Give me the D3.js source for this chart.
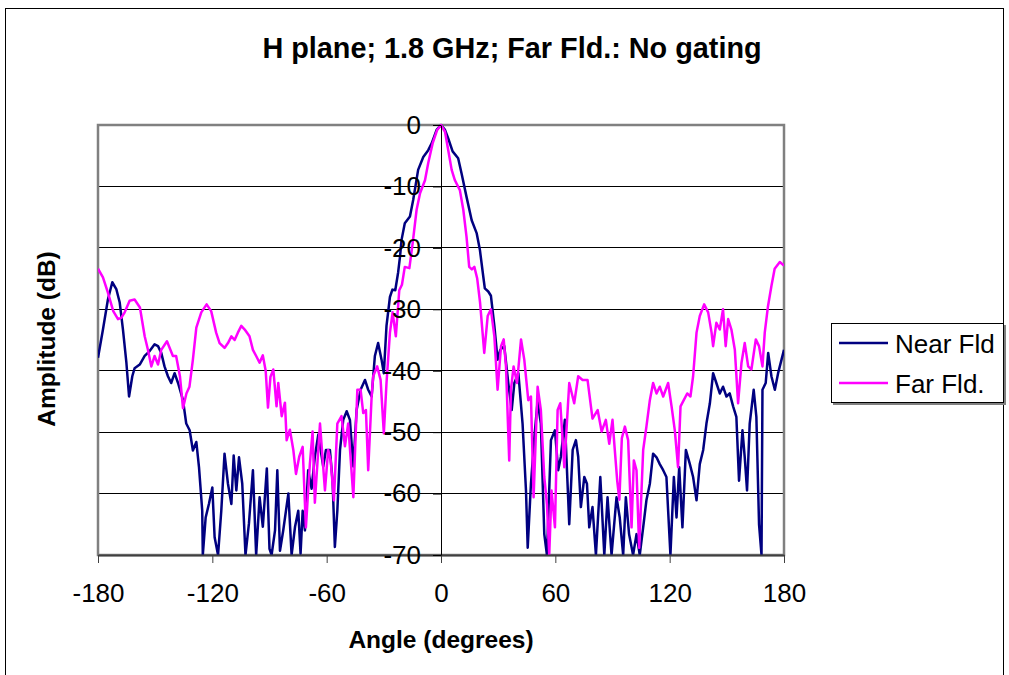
<!DOCTYPE html>
<html>
<head>
<meta charset="utf-8">
<script src="https://cdn.jsdelivr.net/npm/d3@7"></script>
<style>
  html, body { margin: 0; padding: 0; background: #fff; }
  svg { display: block; font-family: "Liberation Sans", Arial, sans-serif; }
</style>
</head>
<body>
<svg id="chart" width="1009" height="675"></svg>
<script>
// ---------- DATA ----------
const chartTitle = "H plane; 1.8 GHz; Far Fld.: No gating";
const xTitle = "Angle (degrees)";
const yTitle = "Amplitude (dB)";
const seriesNames = ["Near Fld", "Far Fld."];
const xTicks = [-180, -120, -60, 0, 60, 120, 180];
const yTicks = [0, -10, -20, -30, -40, -50, -60, -70];

const nearAngles = [-180,-177.4,-174.8,-172.5,-170.4,-168.6,-166.9,-165.1,-163.7,-162,-160.8,-158.1,-155.5,-152.9,-150.3,-148.5,-146.8,-145.1,-143.3,-141.6,-139.8,-138,-135.4,-133.7,-131.9,-130.2,-128.4,-127,-125.3,-125,-123.5,-121.8,-120,-118.8,-117,-115.3,-113.6,-111.8,-110,-108.8,-107.4,-106,-104.3,-102.6,-100.8,-98.7,-97,-95.2,-93.5,-91.4,-90,-88.9,-87.1,-85.9,-84.5,-82.8,-80.1,-78.4,-76.6,-74.9,-73.7,-72.6,-71.4,-69.7,-67.9,-66.2,-64.4,-61.8,-60.4,-58.3,-56.9,-55.7,-54.4,-53,-51.3,-49.5,-47.8,-46,-44.3,-42.2,-39.9,-38.2,-36.4,-34.7,-33,-31.2,-30,-28.6,-26.8,-25.5,-24,-22.5,-21.5,-20.7,-19,-16.3,-14.6,-12,-9.3,-6.7,-4.9,-2.3,0,2.1,3.8,6.1,9,10.8,13.4,16.1,18.7,20.4,22.2,23,24.8,26.2,28,29.7,31.1,33.2,35.3,37.1,38.5,40.6,42.8,44.6,45.5,47.2,49,50.7,52.4,54.2,55.6,57.7,59.8,61.5,62.9,65,67.3,69.1,70.8,72,73.4,75.2,76.6,77.8,79.5,81.3,83.6,85.7,87.4,89.5,92.1,93.8,95.6,97,98.7,100.8,102.6,104.3,106.1,107.8,109.6,111.3,113.1,114.8,116.6,118.3,119.2,120.4,122.2,123.6,125,126.7,128.5,130.6,132.3,134.1,135.8,137.6,139.3,141.1,142.8,144.5,146.3,148,149.8,151.5,153.3,155,156.4,158.2,159.4,160.6,162,164.1,165.5,166.9,168.2,168.7,170.4,171.7,173.4,175.2,176.9,178.7,180];
const nearValues = [-37.9,-33.3,-28.4,-25.6,-26.7,-28.9,-33.3,-38.7,-44.2,-40.9,-39.6,-39,-37.6,-36.8,-35.7,-36,-37.1,-39.3,-40.9,-42,-40.4,-42,-44.8,-48.6,-49.7,-53,-51.6,-55.7,-62.8,-70,-63.9,-61.7,-59,-67.1,-70,-62.8,-53.5,-58.4,-61.7,-53.8,-59.5,-54.1,-58.4,-70,-64.9,-56.2,-70,-60.6,-65.4,-55.9,-69,-70,-66,-56.2,-69.3,-66,-60,-70,-65.4,-62.8,-69.8,-62.8,-66,-56.2,-59.2,-54,-50.4,-55.6,-52.9,-52.9,-57.9,-68.7,-62.8,-52.9,-48,-46.6,-48,-55.6,-46.4,-43.1,-41.5,-43.1,-44.2,-37.6,-35.5,-38.2,-40.4,-32.7,-28,-26.8,-26.9,-24,-21.4,-18.7,-16,-14.9,-12.2,-7.3,-5.2,-4.1,-3,-0.8,0,-0.8,-2.2,-4.3,-5.4,-7.9,-11.7,-15.5,-17.6,-20.3,-24.7,-26.6,-27.1,-27.8,-32.7,-38.2,-36.6,-36,-42,-46.4,-42,-40.4,-48.6,-59.5,-68.8,-58.4,-50.8,-45,-48.6,-66.6,-70,-51.3,-49.7,-56.2,-54,-48,-65,-52.9,-51.3,-54,-62.2,-57.3,-58.4,-65.5,-62.2,-70,-57.3,-70,-60.6,-70,-60.6,-63.9,-70,-60.6,-66.6,-70,-66.6,-70,-65.5,-61.1,-58.4,-53.5,-54.1,-55.2,-56.2,-57.3,-62.8,-70,-57.3,-63.9,-55.7,-65.5,-52.9,-55.2,-57.3,-61.1,-55.2,-52.9,-48.6,-45.3,-40.4,-42,-43.7,-42.6,-44.2,-43.7,-45.8,-47.5,-57.9,-49.7,-54.1,-59.5,-48.6,-43.1,-47.5,-65,-70,-43.1,-42,-37.1,-40.9,-43.1,-40.4,-38.2,-36.6];

const farAngles = [-180,-177.4,-174.8,-172,-169.5,-167.8,-166,-163.4,-160.8,-158,-155.5,-153.8,-152,-150.3,-148.5,-146.8,-143.8,-140.7,-139,-137,-135.4,-133.6,-132,-130.2,-128.4,-125.8,-123,-120.6,-118,-116.2,-113.6,-111.8,-110,-108.3,-106.6,-104.8,-103,-100.5,-98.7,-97,-95.2,-93.5,-92,-90.8,-89.5,-88,-86.3,-85.4,-83.6,-81.9,-81,-79.3,-77.5,-76.1,-74.4,-72.6,-70.9,-68.8,-67.4,-66.2,-63.5,-60.9,-59.2,-57.9,-56.2,-54.4,-52.2,-50.4,-48.7,-46,-43.9,-42.2,-40.8,-39.4,-38.2,-36.4,-35.6,-33.5,-31.7,-30,-28.6,-26.8,-25.4,-23.7,-21.9,-20.5,-19,-16.6,-14.9,-12.8,-11,-8.4,-6.7,-4.4,-2,0,2.1,3.8,5.6,7.3,9.9,11.7,13.4,14.8,16.2,17.5,19,20.5,22.7,24.5,26.2,28,29.7,31.5,32.9,34.1,35.8,36.7,38.1,39.9,42,43.7,45.8,47.2,48.6,50.7,52.4,54.2,55.6,56.8,58,59.8,61.2,62.6,64.7,67.3,69.9,72,74.3,76.9,79.5,82.2,84.3,86.5,88.3,90,91.2,92.5,93.6,94.9,96.5,98.2,100,101.2,102.6,104,106.1,107.8,109.6,111.3,113.1,114.8,116.6,119.2,121,122.7,124.4,125.7,127.4,129.2,130.9,132.3,134.1,135.8,138.1,140.2,142,142.8,144.5,146.3,148,149.4,150.7,152.4,154.2,155.9,157.7,159.4,161.2,162.9,165.2,166.9,168.7,169.9,171.6,173.4,175.1,177.8,180];
const farValues = [-23.4,-24.8,-27.3,-30.3,-31.6,-31.4,-30.5,-28.6,-28.4,-29.7,-34.4,-36.6,-39.3,-37.6,-39,-36.6,-35.2,-37.6,-37.6,-40.9,-46.1,-43.7,-42.6,-38.2,-33,-30.5,-29.2,-30.3,-33.8,-35.5,-36.3,-35.5,-34.4,-35,-33.8,-32.7,-33.3,-34.4,-36.6,-37.6,-38.7,-37.5,-40,-46,-41,-39.8,-45.8,-42,-47.4,-45.2,-51.3,-49.6,-52.9,-56.8,-54,-52.4,-65.5,-55.1,-49.9,-61.5,-48.6,-59.5,-52.9,-54.6,-61.1,-48.6,-47.4,-52.3,-48.6,-60.6,-43.1,-43.1,-46.9,-46.4,-56.2,-44.2,-40.9,-39.3,-41.5,-50.2,-42,-33.8,-30.5,-34.4,-26.9,-26,-23.1,-23.3,-19.3,-13.8,-11.1,-9,-6.2,-3,-0.8,0,-1.1,-4.1,-7.3,-9,-10.6,-13.8,-18.2,-23.1,-23.5,-23.1,-25,-28.9,-37.1,-31.1,-30,-34.4,-43.1,-36,-34.9,-39.3,-54.6,-43.1,-39.3,-42,-34.9,-38.2,-44.8,-44.2,-60.6,-42.6,-46.4,-57.3,-61.7,-70,-59.5,-65.5,-46.4,-45.3,-55.7,-42,-45.3,-40.9,-41.5,-41.5,-47.8,-46.4,-49.9,-48,-51.9,-48,-52.9,-58,-61,-51,-49.1,-51.3,-65.5,-54.6,-56.2,-68.8,-52.9,-49.1,-44.8,-42,-43.7,-42.6,-44.2,-42,-45.8,-49.7,-55.7,-45.8,-44.8,-43.7,-44.2,-40.9,-33.8,-31.1,-29.2,-30.5,-33.8,-36,-32.2,-33.3,-30,-36,-31.6,-33.3,-36.6,-45.3,-38.7,-35.5,-39.3,-39.8,-34.9,-36,-39.3,-33.8,-29.5,-26.2,-23.4,-22.3,-22.9];

const seriesColors = ["#000080", "#FF00FF"];

// ---------- CHART ----------
const svg = d3.select("#chart");
const x = d3.scaleLinear().domain([-180, 180]).range([98, 784]);
const y = d3.scaleLinear().domain([-70, 0]).range([555, 125]);
const fmt = d => String(d);

// outer frame
svg.append("rect").attr("x", 5.5).attr("y", 8.5).attr("width", 998).attr("height", 700)
  .attr("fill", "none").attr("stroke", "#000").attr("stroke-width", 1);

// title
svg.append("text").attr("x", 512).attr("y", 58).attr("text-anchor", "middle")
  .attr("font-weight", "bold").attr("font-size", 28.8).text(chartTitle);

// gridlines
svg.append("g").selectAll("line").data(yTicks.filter(d => d !== 0 && d !== -70)).join("line")
  .attr("x1", x(-180)).attr("x2", x(180)).attr("y1", d => y(d)).attr("y2", d => y(d))
  .attr("stroke", "#000").attr("stroke-width", 1).attr("shape-rendering", "crispEdges");

// plot border (gray)
svg.append("rect").attr("x", x(-180)).attr("y", y(0)).attr("width", x(180) - x(-180)).attr("height", y(-70) - y(0))
  .attr("fill", "none").attr("stroke", "#808080").attr("stroke-width", 2.5);

// clip
svg.append("clipPath").attr("id", "clip").append("rect")
  .attr("x", x(-180)).attr("y", y(0) - 2).attr("width", x(180) - x(-180)).attr("height", y(-70) - y(0) + 2);

const line = d3.line().x(d => x(d[0])).y(d => y(Math.max(-70, d[1])));
const nearData = nearAngles.map((a, i) => [a, nearValues[i]]);
const farData = farAngles.map((a, i) => [a, farValues[i]]);

const gl = svg.append("g").attr("clip-path", "url(#clip)");
gl.append("path").datum(nearData).attr("d", line).attr("fill", "none")
  .attr("stroke", seriesColors[0]).attr("stroke-width", 2.5).attr("stroke-linejoin", "round");
gl.append("path").datum(farData).attr("d", line).attr("fill", "none")
  .attr("stroke", seriesColors[1]).attr("stroke-width", 2.5).attr("stroke-linejoin", "round");

// x axis (at bottom)
const xAxis = d3.axisBottom(x).tickValues(xTicks).tickSize(8).tickSizeOuter(0).tickPadding(21).tickFormat(fmt);
const gx = svg.append("g").attr("transform", `translate(0,${y(-70)})`).call(xAxis);
gx.select(".domain").attr("stroke", "#404040").attr("stroke-width", 2);
gx.selectAll(".tick line").attr("stroke", "#404040").attr("stroke-width", 1);
gx.selectAll(".tick text").attr("font-size", 26).attr("fill", "#000").attr("font-family", "Liberation Sans, Arial, sans-serif");

// y axis (crossing at x = 0)
const yAxis = d3.axisLeft(y).tickValues(yTicks).tickSize(8).tickSizeOuter(0).tickPadding(12).tickFormat(fmt);
const gy = svg.append("g").attr("transform", `translate(${x(0)},0)`).call(yAxis);
gy.select(".domain").attr("stroke", "#000").attr("stroke-width", 1);
gy.selectAll(".tick line").attr("stroke", "#000").attr("stroke-width", 1);
gy.selectAll(".tick text").attr("font-size", 26).attr("fill", "#000").attr("font-family", "Liberation Sans, Arial, sans-serif");

// axis titles
svg.append("text").attr("x", 441).attr("y", 648).attr("text-anchor", "middle")
  .attr("font-weight", "bold").attr("font-size", 24.5).text(xTitle);
svg.append("text").attr("transform", "translate(55,339) rotate(-90)").attr("text-anchor", "middle")
  .attr("font-weight", "bold").attr("font-size", 24.5).text(yTitle);

// legend
const lg = svg.append("g");
lg.append("rect").attr("x", 833).attr("y", 325).attr("width", 173).attr("height", 80).attr("fill", "#808080");
lg.append("rect").attr("x", 831.5).attr("y", 323.5).attr("width", 172).attr("height", 79)
  .attr("fill", "#fff").attr("stroke", "#000").attr("stroke-width", 1);
const legYs = [343, 383];
seriesNames.forEach((name, i) => {
  lg.append("line").attr("x1", 839).attr("x2", 888).attr("y1", legYs[i]).attr("y2", legYs[i])
    .attr("stroke", seriesColors[i]).attr("stroke-width", 2.5);
  lg.append("text").attr("x", 895).attr("y", legYs[i] + 10).attr("font-size", 26).text(name);
});
</script>
</body>
</html>
